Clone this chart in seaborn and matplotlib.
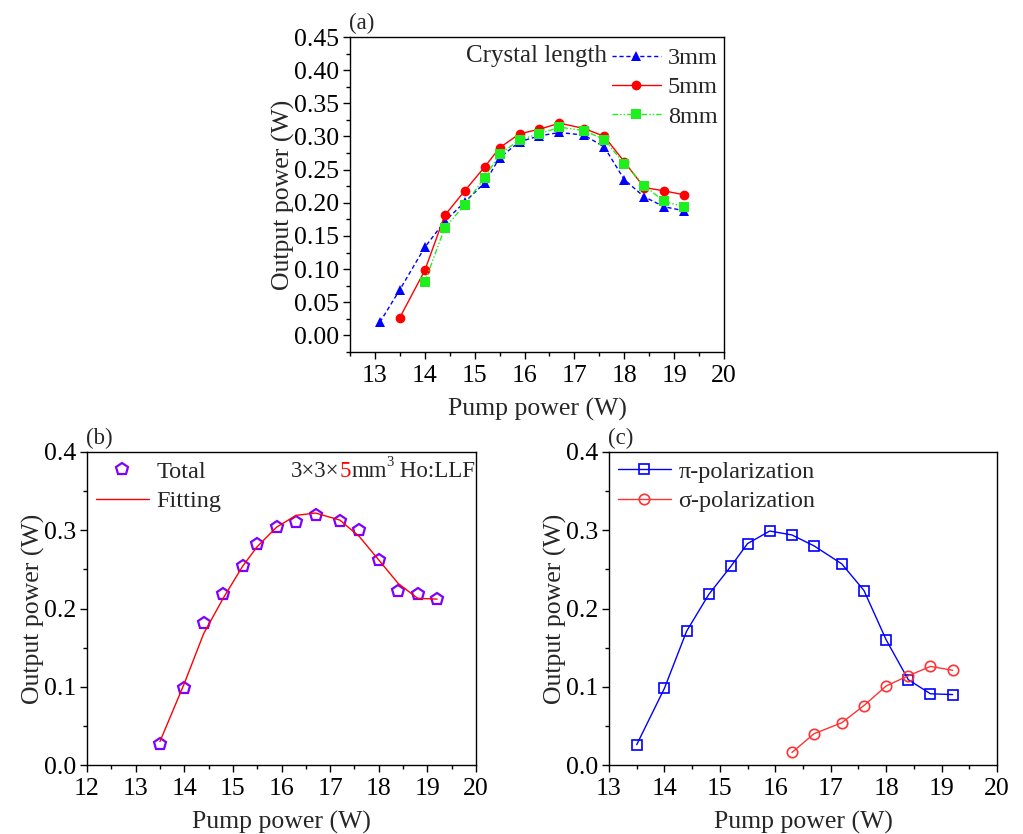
import numpy as np
import pandas as pd
import matplotlib
matplotlib.use("Agg")
import matplotlib.pyplot as plt
from matplotlib.ticker import MultipleLocator, FormatStrFormatter
import seaborn as sns

# ---- data -------------------------------------------------------------
pump = [13.5, 14.0, 14.4, 14.8, 15.2, 15.5, 15.9, 16.3, 16.7, 17.2, 17.6, 18.0, 18.4, 18.8, 19.2]

pump_3mm = [13.1] + pump
out_3mm = [0.020, 0.069, 0.133, 0.172, 0.201, 0.230, 0.268, 0.292, 0.301, 0.306,
           0.302, 0.284, 0.235, 0.209, 0.194, 0.188]

pump_5mm = pump
out_5mm = [0.027, 0.098, 0.181, 0.218, 0.254, 0.283, 0.304, 0.311, 0.320,
           0.312, 0.300, 0.262, 0.223, 0.218, 0.212]

pump_8mm = pump[1:]
out_8mm = [0.081, 0.162, 0.197, 0.238, 0.273, 0.295, 0.304, 0.314,
           0.309, 0.295, 0.259, 0.226, 0.202, 0.194]

fit_5mm = [0.030, 0.104, 0.168, 0.213, 0.254, 0.279, 0.304, 0.319, 0.322,
           0.313, 0.292, 0.262, 0.232, 0.213, 0.212]

out_pi = [0.026, 0.098, 0.171, 0.218, 0.254, 0.283, 0.299, 0.294, 0.280,
          0.257, 0.223, 0.160, 0.109, 0.091, 0.090]
pump_sigma = pump[7:]
out_sigma = [0.016, 0.040, 0.054, 0.076, 0.101, 0.114, 0.126, 0.121]

x_ticks = [13, 14, 15, 16, 17, 18, 19, 20]
x_ticks_b = [12, 13, 14, 15, 16, 17, 18, 19, 20]

# ---- style ------------------------------------------------------------
sns.set_theme(style="ticks")
serif = ["Liberation Serif", "DejaVu Serif"]
plt.rcParams["font.family"] = serif
plt.rcParams.update({
    "axes.edgecolor": "black",
    "axes.linewidth": 1.0,
    "xtick.color": "black",
    "ytick.color": "black",
    "xtick.direction": "out",
    "ytick.direction": "out",
    "xtick.major.size": 5,
    "ytick.major.size": 5,
    "xtick.minor.size": 3,
    "ytick.minor.size": 3,
    "xtick.major.width": 1.0,
    "ytick.major.width": 1.0,
    "xtick.minor.width": 1.0,
    "ytick.minor.width": 1.0,
    "xtick.labelsize": 18.5,
    "ytick.labelsize": 18.5,
    "axes.labelsize": 18.5,
    "legend.fontsize": 17.5,
})

fig = plt.figure(figsize=(10.23, 8.34), dpi=100)
W, H = 1023, 834


def place(l, t, r, b):
    return fig.add_axes([l / W, 1 - b / H, (r - l) / W, (b - t) / H])


ax_a = place(350, 37, 724, 352)
ax_b = place(87, 452, 476, 765)
ax_c = place(609, 452, 997, 765)


def finish(ax, letter):
    ax.set_xlabel("Pump power (W)", labelpad=8)
    ax.set_ylabel("Output power (W)", labelpad=-1)
    ax.xaxis.set_minor_locator(MultipleLocator(0.5))
    ax.tick_params(which="both", top=False, right=False)
    ax.tick_params(axis="x", which="major", pad=4.5)
    ax.tick_params(axis="y", which="major", pad=3)
    for s in ax.spines.values():
        s.set_visible(True)
        s.set_color("black")
    ax.text(-0.003, 1.01, f"({letter})", transform=ax.transAxes, ha="left",
            va="bottom", fontsize=16.5)


legend_kw = dict(frameon=False, handlelength=2.2, handletextpad=0.3,
                 labelspacing=0.32, borderaxespad=0.05, borderpad=0.3)

# ---- (a) crystal length comparison ------------------------------------
sns.lineplot(x=pump_3mm, y=out_3mm, ax=ax_a, color="#0000ff", linestyle=(0, (3, 2)),
             linewidth=1.0, marker="^", markersize=7.5, markeredgewidth=0,
             label="3mm")
sns.lineplot(x=pump_5mm, y=out_5mm, ax=ax_a, color="#ff0000", linestyle="-",
             linewidth=1.0, marker="o", markersize=7, markeredgewidth=0,
             label="5mm")
sns.lineplot(x=pump_8mm, y=out_8mm, ax=ax_a, color="#1ef01e",
             linestyle=(0, (4, 1.5, 1, 1.5, 1, 1.5)), linewidth=1.0,
             marker="s", markersize=6.5, markeredgewidth=0, label="8mm")
ax_a.set_xlim(12.5, 20)
ax_a.set_ylim(-0.025, 0.45)
ax_a.set_xticks(x_ticks)
ax_a.set_yticks(np.arange(0, 0.451, 0.05))
ax_a.yaxis.set_major_formatter(FormatStrFormatter("%.2f"))
ax_a.yaxis.set_minor_locator(MultipleLocator(0.025))
ax_a.legend(loc="upper right", bbox_to_anchor=(1.0, 0.987), frameon=False,
            handlelength=2.0, handletextpad=0.3, labelspacing=0.3,
            borderaxespad=0.0, borderpad=0.25)
ax_a.text(0.687, 0.94, "Crystal length", transform=ax_a.transAxes,
          ha="right", va="center", fontsize=18)
finish(ax_a, "a")

# ---- (b) 5 mm crystal with fit ----------------------------------------
sns.lineplot(x=pump_5mm, y=out_5mm, ax=ax_b, color="#7f00ff", linestyle="none",
             marker="p", markersize=9, markerfacecolor="none",
             markeredgecolor="#7f00ff", markeredgewidth=1.6, label="Total")
sns.lineplot(x=pump_5mm, y=fit_5mm, ax=ax_b, color="#ff0000", linewidth=1.0,
             label="Fitting")
ax_b.set_xlim(12, 20)
ax_b.set_ylim(0, 0.4)
ax_b.set_xticks(x_ticks_b)
ax_b.set_yticks([0.0, 0.1, 0.2, 0.3, 0.4])
ax_b.yaxis.set_major_formatter(FormatStrFormatter("%.1f"))
ax_b.yaxis.set_minor_locator(MultipleLocator(0.05))
ax_b.legend(loc="upper left", **legend_kw)

# crystal label: "3×3×5mm³ Ho:LLF" with the length in red
lab_fs = 16.5
t1 = ax_b.text(0.525, 0.939, "3×3×", transform=ax_b.transAxes, ha="left",
               va="center", fontsize=lab_fs)
t2 = ax_b.annotate("5", xycoords=t1, xy=(1, 0), ha="left", va="bottom",
                   fontsize=lab_fs, color="#ff0000")
t3 = ax_b.annotate("mm", xycoords=t2, xy=(1, 0), ha="left", va="bottom",
                   fontsize=lab_fs)
sup_fs = 10.5
ax_b.annotate("3", xycoords=t3, xy=(1, 0.62), ha="left", va="bottom",
              fontsize=sup_fs)
ax_b.annotate(" Ho:LLF", xycoords=t3, xy=(1, 0), xytext=(0.5 * sup_fs, 0),
              textcoords="offset points", ha="left", va="bottom",
              fontsize=lab_fs)
finish(ax_b, "b")

# ---- (c) polarization-resolved output ---------------------------------
sns.lineplot(x=pump, y=out_pi, ax=ax_c, color="#0000ff", linewidth=1.0,
             marker="s", markersize=7, markerfacecolor="none",
             markeredgecolor="#0000ff", markeredgewidth=1.2,
             label="π-polarization")
sns.lineplot(x=pump_sigma, y=out_sigma, ax=ax_c, color="#ff3333", linewidth=1.0,
             marker="o", markersize=7.5, markerfacecolor="none",
             markeredgecolor="#ff3333", markeredgewidth=1.2,
             label="σ-polarization")
ax_c.set_xlim(13, 20)
ax_c.set_ylim(0, 0.4)
ax_c.set_xticks(x_ticks)
ax_c.set_yticks([0.0, 0.1, 0.2, 0.3, 0.4])
ax_c.yaxis.set_major_formatter(FormatStrFormatter("%.1f"))
ax_c.yaxis.set_minor_locator(MultipleLocator(0.05))
ax_c.legend(loc="upper left", **legend_kw)
finish(ax_c, "c")

fig.savefig("out.png", dpi=100)
